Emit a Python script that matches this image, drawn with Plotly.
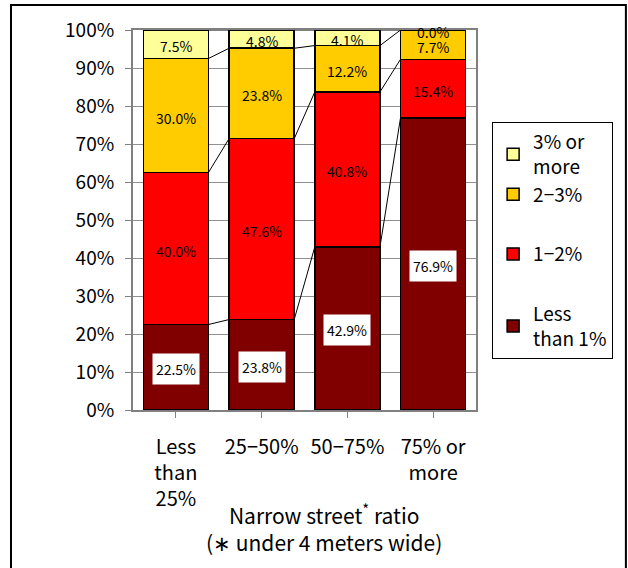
import plotly.graph_objects as go

# Share of households by fire-spread rate, grouped by narrow street ratio
categories = ["Less<br>than<br>25%", "25\u221250%", "50\u221275%", "75% or<br>more"]
series_names = ["Less<br>than 1%", "1\u22122%", "2\u22123%", "3% or<br>more"]
less_than_1 = [22.5, 23.8, 42.9, 76.9]
one_to_two = [40.0, 47.6, 40.8, 15.4]
two_to_three = [30.0, 23.8, 12.2, 7.7]
three_or_more = [7.5, 4.8, 4.1, 0.0]

series_values = [less_than_1, one_to_two, two_to_three, three_or_more]
series_colors = ["#800000", "#FF0000", "#FFCC00", "#FFFF99"]
legend_groups = ["g3", "g2", "g1", "g1"]
legend_ranks = [4, 3, 2, 1]

FONT = "Noto Sans CJK JP"
BAR_WIDTH = 0.76

fig = go.Figure()
for name, vals, color, grp, rank in zip(series_names, series_values, series_colors,
                                        legend_groups, legend_ranks):
    fig.add_trace(go.Bar(
        x=list(range(len(categories))), y=vals, name=name, width=BAR_WIDTH,
        marker=dict(color=color, line=dict(color="black", width=1.5)),
        legendgroup=grp, legendrank=rank, hoverinfo="skip",
    ))

# Segment labels and series lines between neighbouring bars
n = len(categories)
bottoms = [0.0] * n
tops_per_series = []
for s, vals in enumerate(series_values):
    tops = []
    for i in range(n):
        mid = round(bottoms[i] + vals[i] / 2, 6)
        label = f"{vals[i]:.1f}%"
        extra = dict(bgcolor="white", width=44, height=28) if s == 0 else {}
        fig.add_annotation(x=i, y=mid, xref="x", yref="y", text=label, showarrow=False,
                           yshift=-2, font=dict(family=FONT, size=14, color="black"),
                           **extra)
        bottoms[i] = round(bottoms[i] + vals[i], 6)
        tops.append(bottoms[i])
    tops_per_series.append(tops)

for tops in tops_per_series:
    for i in range(n - 1):
        fig.add_shape(type="line", xref="x", yref="y",
                      x0=i + BAR_WIDTH / 2, y0=tops[i],
                      x1=i + 1 - BAR_WIDTH / 2, y1=tops[i + 1],
                      line=dict(color="black", width=1))

# Axis title
fig.add_annotation(x=0.557, y=-0.31, xref="paper", yref="paper",
                   text="Narrow street<sup>*</sup> ratio<br>(\u2217 under 4 meters wide)",
                   showarrow=False, xanchor="center", yanchor="middle",
                   font=dict(family=FONT, size=21, color="black"))

# Chart frame
fig.add_shape(type="rect", xref="paper", yref="paper",
              x0=-0.3557, x1=1.437, y0=-0.43, y1=1.0658,
              line=dict(color="black", width=2), fillcolor="rgba(0,0,0,0)")

fig.update_layout(
    width=628, height=568,
    margin=dict(l=133, r=152, t=30, b=158),
    barmode="stack",
    plot_bgcolor="white", paper_bgcolor="white",
    font=dict(family=FONT, size=18, color="black"),
    showlegend=True,
    legend=dict(x=1.047, xanchor="left", y=0.758, yanchor="top",
                traceorder="grouped", tracegroupgap=32,
                bordercolor="black", borderwidth=1, bgcolor="white",
                font=dict(family=FONT, size=19, color="black")),
    xaxis=dict(tickmode="array", tickvals=list(range(n)), ticktext=categories,
               range=[-0.5, n - 0.5], showline=True, linecolor="#808080", linewidth=2,
               mirror=True, ticks="outside", ticklen=6, tickcolor="#808080",
               showgrid=False, tickfont=dict(size=20), ticklabelstandoff=12),
    yaxis=dict(range=[0, 100], dtick=10, ticksuffix="%", showline=True,
               linecolor="#808080", linewidth=2, mirror=True, ticks="outside",
               ticklen=6, tickcolor="#808080", gridcolor="#909090", gridwidth=1,
               tickfont=dict(size=19), zeroline=False, ticklabelstandoff=7),
)

fig.write_html("out.html")
